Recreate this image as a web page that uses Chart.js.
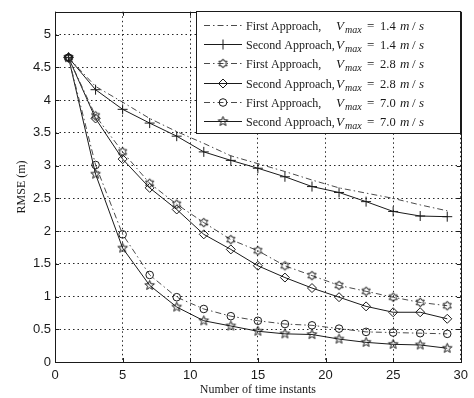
<!DOCTYPE html>
<html>
<head>
<meta charset="utf-8">
<script src="https://cdn.jsdelivr.net/npm/chart.js@4.4.0/dist/chart.umd.min.js"></script>
<style>
  html, body { margin: 0; padding: 0; background: #fff; }
  #wrap { width: 474px; height: 398px; }
</style>
</head>
<body>
<div id="wrap"><canvas id="chart" width="474" height="398"></canvas></div>
<script>
// RMSE vs number of time instants, two approaches at three max speeds.
const timeInstants = [1, 3, 5, 7, 9, 11, 13, 15, 17, 19, 21, 23, 25, 27, 29];

const firstV14  = [4.65, 4.21, 3.97, 3.72, 3.52, 3.34, 3.15, 3.03, 2.91, 2.78, 2.66, 2.58, 2.50, 2.40, 2.31];
const secondV14 = [4.65, 4.16, 3.86, 3.65, 3.45, 3.21, 3.08, 2.96, 2.83, 2.68, 2.59, 2.45, 2.30, 2.23, 2.22];
const firstV28  = [4.65, 3.76, 3.21, 2.73, 2.41, 2.13, 1.87, 1.70, 1.47, 1.32, 1.17, 1.08, 0.99, 0.91, 0.86];
const secondV28 = [4.65, 3.72, 3.10, 2.66, 2.33, 1.95, 1.72, 1.47, 1.29, 1.13, 0.99, 0.85, 0.76, 0.76, 0.66];
const firstV70  = [4.65, 3.01, 1.95, 1.33, 0.99, 0.81, 0.70, 0.63, 0.58, 0.56, 0.51, 0.46, 0.45, 0.44, 0.43];
const secondV70 = [4.65, 2.87, 1.74, 1.17, 0.84, 0.63, 0.55, 0.47, 0.43, 0.42, 0.35, 0.30, 0.27, 0.26, 0.21];

const approachNames = ["First Approach,", "Second Approach,"];
const vmaxLabels = ["1.4", "2.8", "7.0"];

const INK = "#1a1a1a";
const DASH_INK = "#4a4a4a";
const DASH_DOT = [6, 3, 1.5, 3];

// small outline star markers (hexagram / pentagram) as canvases
function starCanvas(nPoints, outer, inner) {
  const size = Math.ceil(outer * 2 + 3) | 1;
  const c = document.createElement("canvas");
  c.width = size; c.height = size;
  const g = c.getContext("2d");
  const cx = size / 2, cy = size / 2;
  g.beginPath();
  for (let k = 0; k < nPoints * 2; k++) {
    const r = k % 2 === 0 ? outer : inner;
    const a = -Math.PI / 2 + k * Math.PI / nPoints;
    const px = cx + r * Math.cos(a), py = cy + r * Math.sin(a);
    if (k === 0) g.moveTo(px, py); else g.lineTo(px, py);
  }
  g.closePath();
  g.strokeStyle = INK;
  g.lineWidth = 1;
  g.stroke();
  return c;
}
const hexagram = starCanvas(6, 4.6, 2.7);
const pentagram = starCanvas(5, 5, 2.1);

function toPoints(values) {
  return values.map((v, i) => ({ x: timeInstants[i], y: v }));
}

function series(values, dashed, pointStyle, radius) {
  return {
    data: toPoints(values),
    borderColor: dashed ? DASH_INK : INK,
    backgroundColor: "rgba(0,0,0,0)",
    borderWidth: 1,
    borderDash: dashed ? DASH_DOT : [],
    pointStyle: pointStyle || "circle",
    pointRadius: radius,
    pointBorderColor: INK,
    pointBackgroundColor: "rgba(0,0,0,0)",
    pointBorderWidth: 1,
    tension: 0,
  };
}

const datasets = [
  series(firstV14, true, "circle", 0),
  series(secondV14, false, "cross", 5),
  series(firstV28, true, hexagram, 4.5),
  series(secondV28, false, "rectRot", 4.5),
  series(firstV70, true, "circle", 3.8),
  series(secondV70, false, pentagram, 5),
];

// solid box around the plot plus inward tick marks (MATLAB look)
const frame = {
  id: "frame",
  afterDatasetsDraw(chart) {
    const { ctx, chartArea: a, scales } = chart;
    ctx.save();
    ctx.strokeStyle = INK;
    ctx.lineWidth = 1;
    ctx.setLineDash([]);
    ctx.strokeRect(Math.round(a.left) + 0.5, Math.round(a.top) + 0.5,
      Math.round(a.right - a.left), Math.round(a.bottom - a.top));
    ctx.beginPath();
    scales.x.ticks.forEach((t) => {
      const px = Math.round(scales.x.getPixelForValue(t.value)) + 0.5;
      ctx.moveTo(px, a.bottom); ctx.lineTo(px, a.bottom - 4);
      ctx.moveTo(px, a.top); ctx.lineTo(px, a.top + 4);
    });
    scales.y.ticks.forEach((t) => {
      const py = Math.round(scales.y.getPixelForValue(t.value)) + 0.5;
      ctx.moveTo(a.left, py); ctx.lineTo(a.left + 4, py);
      ctx.moveTo(a.right, py); ctx.lineTo(a.right - 4, py);
    });
    ctx.stroke();
    ctx.restore();
  },
};

// boxed legend in the top-right corner
const boxLegend = {
  id: "boxLegend",
  afterDraw(chart) {
    const ctx = chart.ctx;
    ctx.save();
    ctx.fillStyle = "#fff";
    ctx.fillRect(196.5, 11.5, 264, 122);
    ctx.strokeStyle = INK;
    ctx.lineWidth = 1;
    ctx.setLineDash([]);
    ctx.strokeRect(196.5, 11.5, 264, 122);

    chart.data.datasets.forEach((ds, i) => {
      const y = Math.round(25 + i * 19.2) + 0.5;
      ctx.strokeStyle = ds.borderColor;
      ctx.setLineDash(ds.borderDash);
      ctx.beginPath();
      ctx.moveTo(204, y);
      ctx.lineTo(242, y);
      ctx.stroke();
      ctx.setLineDash([]);
      if (ds.pointRadius > 0) {
        ctx.strokeStyle = INK;
        ctx.fillStyle = "rgba(0,0,0,0)";
        Chart.helpers.drawPoint(ctx, {
          pointStyle: ds.pointStyle, radius: ds.pointRadius, rotation: 0, borderWidth: 1,
        }, 223, y);
      }

      const base = y + 4;
      ctx.fillStyle = INK;
      ctx.textBaseline = "alphabetic";
      ctx.textAlign = "left";
      ctx.font = "12px 'Liberation Serif'";
      ctx.fillText(approachNames[i % 2], 246, base);
      const vx = 336;
      const pieces = [
        ["V", 0, "italic 13px 'Liberation Serif'", 0],
        ["max", 9, "italic 10px 'Liberation Serif'", 3],
        ["=", 31, "13px 'Liberation Serif'", 0],
        [vmaxLabels[Math.floor(i / 2)], 44, "12.5px 'Liberation Serif'", 0],
        ["m", 64, "italic 13px 'Liberation Serif'", 0],
        ["/", 76, "13px 'Liberation Serif'", 0],
        ["s", 83, "italic 13px 'Liberation Serif'", 0],
      ];
      pieces.forEach(([txt, dx, font, dy]) => {
        ctx.font = font;
        ctx.fillText(txt, vx + dx, base + dy);
      });
    });
    ctx.restore();
  },
};

const gridDots = { color: "rgba(0,0,0,0.85)", drawTicks: false, lineWidth: 1 };

new Chart(document.getElementById("chart"), {
  type: "line",
  data: { datasets: datasets },
  plugins: [frame, boxLegend],
  options: {
    responsive: false,
    animation: false,
    layout: { padding: { left: 0, right: 11, top: 9, bottom: 0 } },
    plugins: { legend: { display: false }, tooltip: { enabled: false } },
    scales: {
      x: {
        type: "linear",
        min: 0, max: 30,
        grid: gridDots,
        border: { display: false, dash: [1.5, 3] },
        ticks: {
          stepSize: 5, padding: 6, color: INK,
          font: { family: "'Liberation Sans'", size: 13 },
          maxRotation: 0,
        },
        title: {
          display: true, text: "Number of time instants", color: INK,
          font: { family: "'Liberation Serif'", size: 12 },
          padding: { top: 0, bottom: 1 },
        },
        afterFit: (scale) => { scale.height = 36; },
      },
      y: {
        type: "linear",
        min: 0, max: 5.35,
        grid: gridDots,
        border: { display: false, dash: [1.5, 3] },
        ticks: {
          stepSize: 0.5, includeBounds: false, padding: 4, color: INK,
          font: { family: "'Liberation Sans'", size: 13 },
          callback: (v) => String(Math.round(v * 10) / 10),
        },
        title: {
          display: true, text: "RMSE (m)", color: INK,
          font: { family: "'Liberation Serif'", size: 12 },
          padding: { top: 15, bottom: 0 },
        },
        afterFit: (scale) => { scale.width = 55; },
      },
    },
  },
});
</script>
</body>
</html>
